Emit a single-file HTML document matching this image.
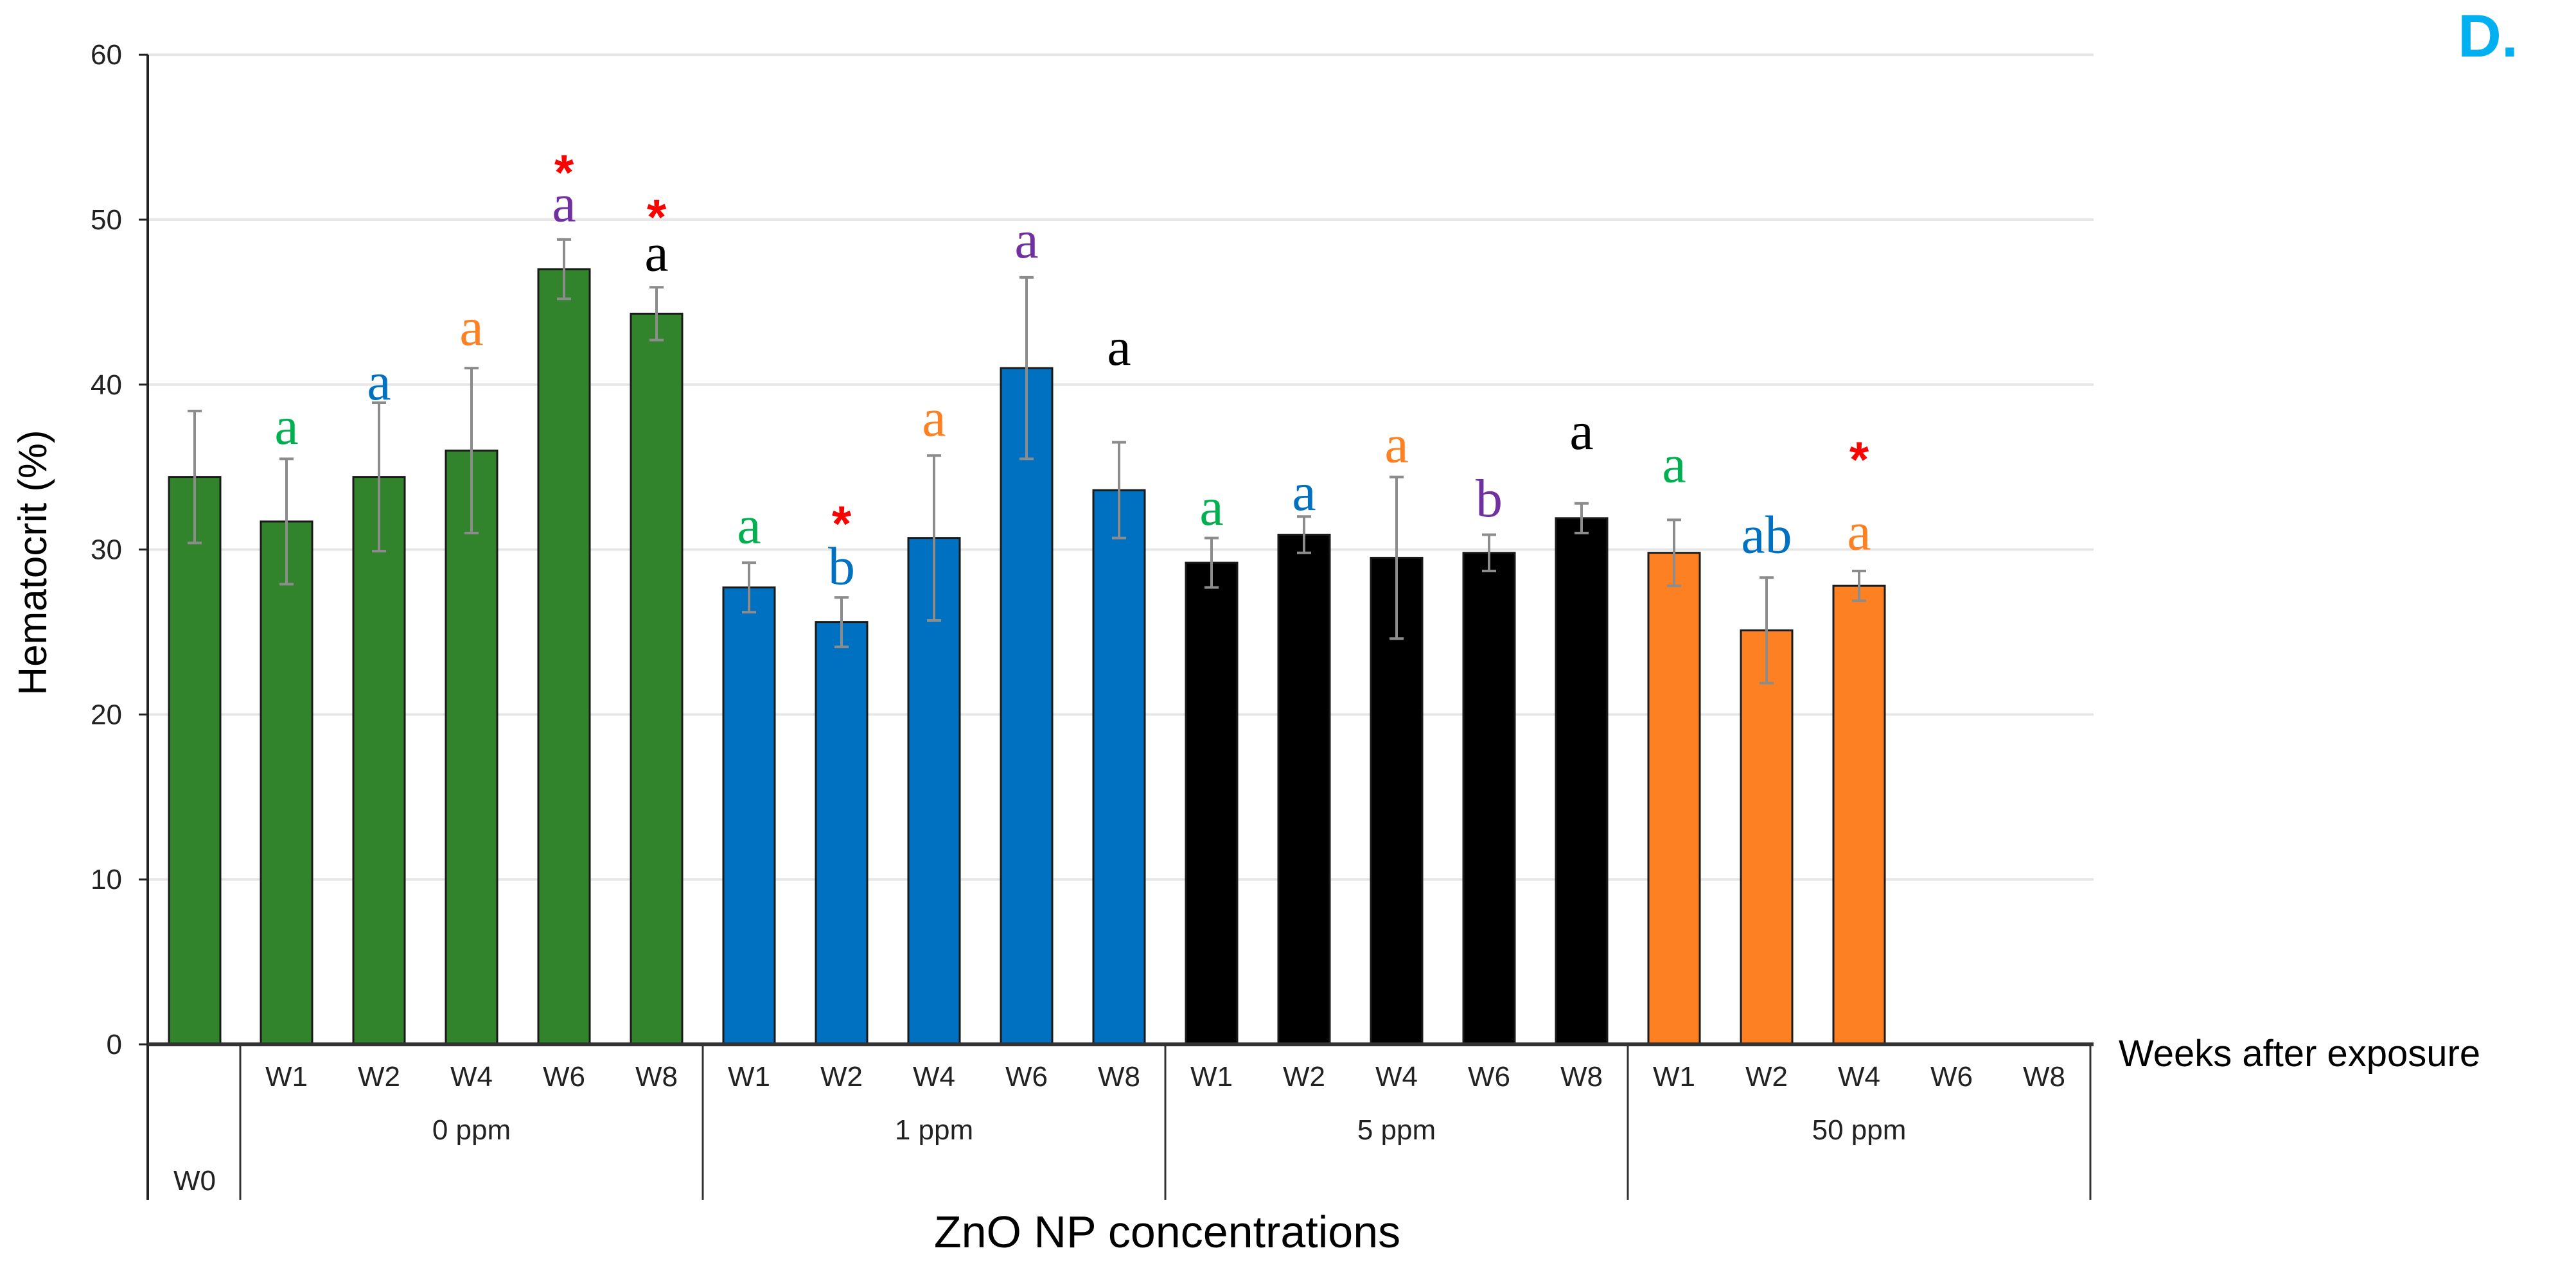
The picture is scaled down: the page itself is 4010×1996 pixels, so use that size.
<!DOCTYPE html>
<html><head><meta charset="utf-8"><style>
html,body{margin:0;padding:0;background:#fff;}
svg text{font-family:"Liberation Sans",sans-serif;}
</style></head><body>
<svg id="chart" xmlns="http://www.w3.org/2000/svg" width="4010" height="1991" viewBox="0 0 4010 1991">
<g id="grid"></g>
<g id="bars"></g>
<g id="errs"></g>
<g id="letters"></g>
<g id="axes"></g>
<text x="0" y="0" transform="translate(72,876) rotate(-90)" font-size="62" text-anchor="middle" fill="#000">Hematocrit (%)</text>
<text x="1817" y="1942" font-size="70" text-anchor="middle" fill="#000">ZnO NP concentrations</text>
<text x="3298" y="1660" font-size="58" fill="#000">Weeks after exposure</text>
<text x="3826" y="88" font-size="94" font-weight="bold" fill="#00b0f0">D.</text>
</svg>
<script>
const yTicks = [0,10,20,30,40,50,60];
const groups = ["0 ppm","1 ppm","5 ppm","50 ppm"];
const weeks = ["W1","W2","W4","W6","W8"];
const w0Value = 34.4;
const w0Err = 4.0;
const values0 = [31.7,34.4,36.0,47.0,44.3];
const values1 = [27.7,25.6,30.7,41.0,33.6];
const values5 = [29.2,30.9,29.5,29.8,31.9];
const values50 = [29.8,25.1,27.8,null,null];
const errs0 = [3.8,4.5,5.0,1.8,1.6];
const errs1 = [1.5,1.5,5.0,5.5,2.9];
const errs5 = [1.5,1.1,4.9,1.1,0.9];
const errs50 = [2.0,3.2,0.9,null,null];
const letters0 = ["a","a","a","a","a"];
const letters1 = ["a","b","a","a","a"];
const letters5 = ["a","a","a","b","a"];
const letters50 = ["a","ab","a","",""];
const letterY0 = [36.4,39.1,42.4,49.9,46.9];
const letterY1 = [30.4,27.9,36.9,47.7,41.2];
const letterY5 = [31.5,32.4,35.3,32.0,36.1];
const letterY50 = [34.1,29.8,30.0,null,null];
const stars0 = [null,null,null,53.0,50.3];
const stars1 = [null,31.7,null,null,null];
const stars5 = [null,null,null,null,null];
const stars50 = [null,null,35.6,null,null];

const NS="http://www.w3.org/2000/svg";
const X0=230, X1=3259, Y0=1626, PX=25.68, SLOT=144, BW=80;
const groupColors=["#31842b","#0070c0","#000000","#fd8023"];
const weekColors=["#00b050","#0070c0","#fd8023","#7030a0","#000000"];
function yS(v){return Y0-v*PX;}
function xW0(){return X0+SLOT/2+1;}
function xBar(g,i){return X0+SLOT+g*5*SLOT+i*SLOT+SLOT/2;}
function mk(tag,attrs,parent){const e=document.createElementNS(NS,tag);for(const k in attrs)e.setAttribute(k,attrs[k]);parent.appendChild(e);return e;}
const grid=document.getElementById('grid'),bars=document.getElementById('bars'),errs=document.getElementById('errs'),lets=document.getElementById('letters'),axes=document.getElementById('axes');

yTicks.forEach(t=>{
  if(t>0){const l=mk('line',{x1:X0,x2:X1,y1:yS(t),y2:yS(t),stroke:'#e6e6e6','stroke-width':4},grid);
  
  }
  const tk=mk('line',{x1:216,x2:X0,y1:yS(t),y2:yS(t),stroke:'#222','stroke-width':3},axes);
  
  
  const tx=mk('text',{x:190,y:yS(t)+15,'font-size':44,'text-anchor':'end',fill:'#222'},axes);
  tx.textContent=t;
  
  
});

function drawBar(x,v,e,color,name){
  const r=mk('rect',{x:x-BW/2,y:yS(v),width:BW,height:v*PX,fill:color,stroke:'#1a1a1a','stroke-width':3},bars);
  
  
  const g=mk('g',{stroke:'#8c8c8c','stroke-width':4},errs);
  
  
  mk('line',{x1:x,x2:x,y1:yS(v+e),y2:yS(v-e)},g);
  mk('line',{x1:x-11,x2:x+11,y1:yS(v+e),y2:yS(v+e)},g);
  mk('line',{x1:x-11,x2:x+11,y1:yS(v-e),y2:yS(v-e)},g);
}
drawBar(xW0(),w0Value,w0Err,groupColors[0],'w0');
const allV=[values0,values1,values5,values50],allE=[errs0,errs1,errs5,errs50],allL=[letters0,letters1,letters5,letters50],allLY=[letterY0,letterY1,letterY5,letterY50],allS=[stars0,stars1,stars5,stars50];
groups.forEach((gname,g)=>{
  weeks.forEach((w,i)=>{
    const x=xBar(g,i),v=allV[g][i];
    const nm=gname.replace(' ','')+'-'+w.toLowerCase();
    if(v!=null) drawBar(x,v,allE[g][i],groupColors[g],nm);
    if(allL[g][i]){
      const t=mk('text',{x:x,y:yS(allLY[g][i]),'font-size':84,'text-anchor':'middle',fill:weekColors[i],style:'font-family:"Liberation Serif",serif'},lets);
      t.textContent=allL[g][i];
      
      
    }
    if(allS[g][i]!=null){
      const s=mk('text',{x:x,y:yS(allS[g][i])+30,'font-size':78,'text-anchor':'middle',fill:'#ff0000','font-weight':'bold'},lets);
      s.textContent='*';
      
      
    }
    const wl=mk('text',{x:x,y:1691,'font-size':44,'text-anchor':'middle',fill:'#222'},axes);
    wl.textContent=w;
    
    
  });
  const gl=mk('text',{x:X0+SLOT+g*5*SLOT+2.5*SLOT,y:1774,'font-size':44,'text-anchor':'middle',fill:'#222'},axes);
  gl.textContent=gname;
  
  
});
const w0l=mk('text',{x:xW0(),y:1853,'font-size':44,'text-anchor':'middle',fill:'#222'},axes);
w0l.textContent='W0';


const ya=mk('line',{x1:X0,x2:X0,y1:yS(60),y2:1868,stroke:'#222','stroke-width':4},axes);


const xa=mk('line',{x1:X0,x2:X1,y1:Y0,y2:Y0,stroke:'#333','stroke-width':6},axes);


[0,1,2,3,4].forEach(k=>{
  const x=X0+SLOT+k*5*SLOT;
  const d=mk('line',{x1:x,x2:x,y1:Y0,y2:1868,stroke:'#333','stroke-width':3},axes);
  
  
});
</script>
</body></html>
